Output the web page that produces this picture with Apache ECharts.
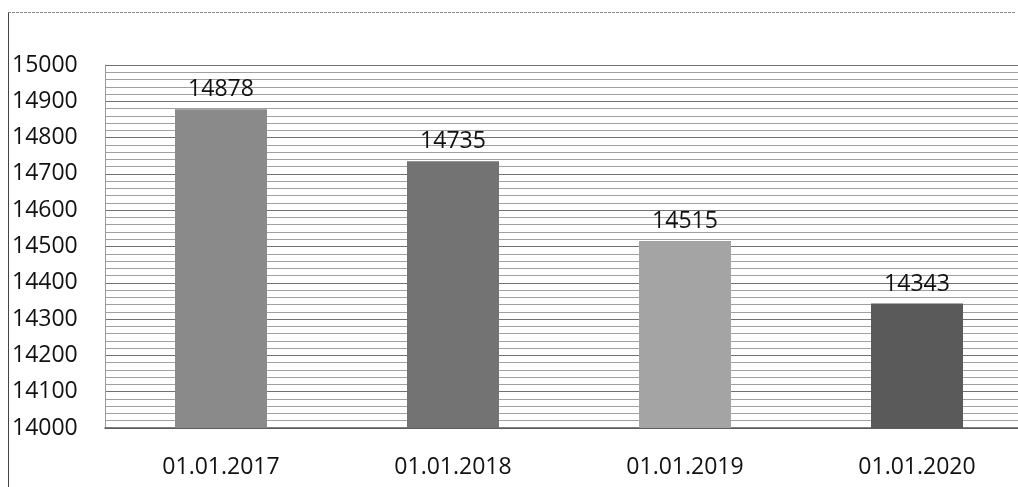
<!DOCTYPE html>
<html><head><meta charset="utf-8">
<script src="https://cdn.jsdelivr.net/npm/echarts@6/dist/echarts.min.js"></script>
<style>html,body{margin:0;padding:0;background:#fff;}#c{width:1018px;height:487px;}</style>
</head><body><div id="c"></div>
<script>
const categories = ['01.01.2017', '01.01.2018', '01.01.2019', '01.01.2020'];
const values = [14878, 14735, 14515, 14343];
const barColors = ['#8a8a8a', '#737373', '#a4a4a4', '#5a5a5a'];
const yMin = 14000, yMax = 15000, yStep = 100;

const chart = echarts.init(document.getElementById('c'), null, {renderer: 'canvas'});
const font = '"Open Sans", sans-serif';
chart.setOption({
  animation: false,
  backgroundColor: '#fff',
  grid: {left: 105, top: 65, width: 928, height: 363, outerBoundsMode: 'none', containLabel: false},
  xAxis: {
    type: 'category', data: categories,
    axisLine: {show: true, lineStyle: {color: '#555', width: 1.5}},
    axisTick: {show: false},
    axisLabel: {color: '#111', fontSize: 23, fontFamily: font, margin: 28}
  },
  yAxis: {
    type: 'value', min: yMin, max: yMax, interval: yStep,
    axisLine: {show: true, lineStyle: {color: '#999', width: 1}},
    axisTick: {show: false},
    axisLabel: {color: '#111', fontSize: 23, fontFamily: font, align: 'left', margin: 93,
      formatter: v => String(v)},
    splitLine: {show: true, lineStyle: {color: '#707070', width: 1}},
    minorTick: {show: false, splitNumber: 5},
    minorSplitLine: {show: true, lineStyle: {color: '#a0a0a0', width: 1}}
  },
  series: [{
    type: 'bar',
    data: values.map((v, i) => ({value: v, itemStyle: {color: barColors[i]}})),
    barWidth: 92,
    label: {show: true, position: 'top', distance: 8, color: '#111', fontSize: 23, fontFamily: font}
  }],
  graphic: [
    {type: 'line', shape: {x1: 8.5, y1: 12, x2: 8.5, y2: 487}, style: {stroke: '#444', lineWidth: 1}},
    {type: 'line', shape: {x1: 8, y1: 12.5, x2: 1016, y2: 12.5}, style: {stroke: '#888', lineWidth: 1, lineDash: [3, 1]}}
  ]
});
</script></body></html>
